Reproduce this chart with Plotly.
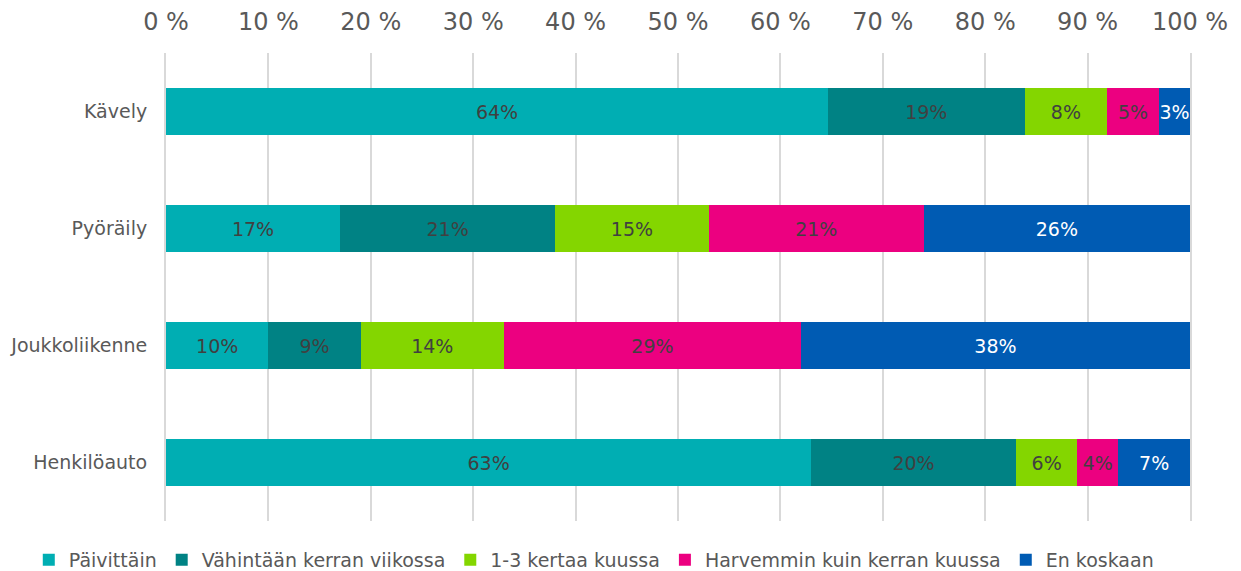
import plotly.graph_objects as go

categories = ["Kävely", "Pyöräily", "Joukkoliikenne", "Henkilöauto"]
series_names = ["Päivittäin", "Vähintään kerran viikossa", "1-3 kertaa kuussa",
                "Harvemmin kuin kerran kuussa", "En koskaan"]
paivittain = [64, 17, 10, 63]
viikossa = [19, 21, 9, 20]
kuussa_1_3 = [8, 15, 14, 6]
harvemmin = [5, 21, 29, 4]
en_koskaan = [3, 26, 38, 7]
tick_vals = [0, 10, 20, 30, 40, 50, 60, 70, 80, 90, 100]
tick_text = [f"{v} %" for v in tick_vals]

colors = ["#00AEB3", "#008284", "#84D600", "#EC0080", "#005BB3"]
text_colors = ["#404040", "#404040", "#404040", "#404040", "#FFFFFF"]
values = [paivittain, viikossa, kuussa_1_3, harvemmin, en_koskaan]

FONT = "Verdana, DejaVu Sans, sans-serif"

fig = go.Figure()
for name, vals, col, tcol in zip(series_names, values, colors, text_colors):
    fig.add_trace(go.Bar(
        y=categories, x=vals, name=name, orientation="h",
        marker=dict(color=col, line=dict(width=0)),
        text=[f"{v}%" for v in vals],
        textposition="inside", insidetextanchor="middle", textangle=0,
        textfont=dict(family=FONT, size=19, color=tcol),
        constraintext="none",
        hoverinfo="y+name",
    ))

fig.update_layout(
    barmode="stack",
    barnorm="percent",
    bargap=0.6,
    width=1241, height=571,
    margin=dict(l=166, r=51, t=53, b=50, autoexpand=False),
    plot_bgcolor="white", paper_bgcolor="white",
    font=dict(family=FONT, color="#595959", size=19),
    uniformtext=dict(mode=False),
    xaxis=dict(
        side="top", range=[0, 100], tickvals=tick_vals, ticktext=tick_text,
        showgrid=True, gridcolor="#D9D9D9", gridwidth=2,
        zeroline=False, showline=False, ticks="",
        tickfont=dict(family=FONT, size=24, color="#595959"),
        ticklabelstandoff=17,
        automargin=False,
    ),
    yaxis=dict(
        categoryorder="array", categoryarray=categories[::-1],
        showgrid=False, zeroline=False, ticks="",
        showline=True, linecolor="#D9D9D9", linewidth=2, mirror=True,
        tickfont=dict(family=FONT, size=19, color="#595959"),
        ticklabelstandoff=13,
        automargin=False,
    ),
    legend=dict(
        orientation="h", xref="paper", x=-0.134, xanchor="left",
        yref="paper", y=-0.083, yanchor="middle",
        font=dict(family=FONT, size=19, color="#595959"),
        traceorder="normal", itemwidth=30, tracegroupgap=0,
    ),
    showlegend=True,
)

fig.write_html("out.html", config={"displayModeBar": False},
               post_script="document.body.style.margin='0';")
